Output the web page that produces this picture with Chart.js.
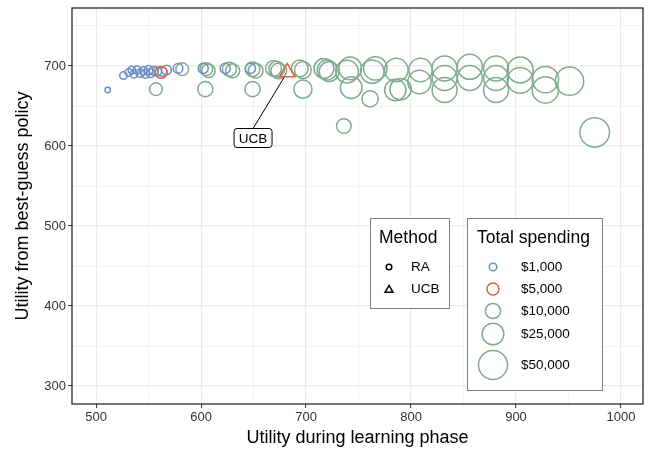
<!DOCTYPE html>
<html>
<head>
<meta charset="utf-8">
<script src="https://cdn.jsdelivr.net/npm/chart.js@4.4.1/dist/chart.umd.min.js"></script>
<style>
  html, body { margin: 0; padding: 0; background: #ffffff; }
  #wrap { width: 649px; height: 450px; }
</style>
</head>
<body>
<div id="wrap"><canvas id="c" width="649" height="450"></canvas></div>
<script>
// Random-allocation (RA) runs, low spending
const raBlueX = [511, 526, 531, 534, 536, 539, 542, 545, 547, 550, 552, 555, 558, 563, 567, 578, 602, 623, 647];
const raBlueY = [670, 688, 692, 695, 690, 695, 691, 694, 690, 695, 691, 694, 693, 693, 695, 697, 697, 697, 697];
const raBlueSpend = [150, 1000, 1000, 1000, 1200, 1200, 1500, 1500, 1500, 1800, 1800, 2000, 2000, 2200, 2500, 2500, 3000, 3000, 3000];

// RA runs, higher spending
const raGreenX = [557, 582, 605, 607, 604, 627, 630, 649, 652, 649, 669, 672, 674, 694, 697, 697,
  717, 720, 722, 736, 742, 739, 743, 761, 766, 763, 786, 785, 790, 809, 808,
  832, 832, 832, 856, 856, 881, 881, 881, 904, 904, 928, 928, 951, 975];
const raGreenY = [671, 696, 696, 694, 671, 696, 694, 696, 694, 671, 697, 696, 694, 697, 695, 671,
  697, 695, 693, 625, 697, 693, 673, 659, 697, 693, 695, 670, 671, 695, 680,
  697, 685, 670, 699, 685, 697, 685, 670, 695, 682, 683, 670, 681, 617];
const raGreenSpend = [6000, 6000, 6000, 7000, 10000, 8000, 8000, 9000, 9000, 10000, 11000, 11000, 11000, 13000, 13000, 16000,
  20000, 20000, 20000, 9000, 28000, 28000, 25000, 12000, 30000, 30000, 30000, 24000, 24000, 30000, 30000,
  35000, 35000, 35000, 35000, 35000, 35000, 35000, 35000, 38000, 38000, 40000, 40000, 47000, 52000];

// RA run at $5,000 and the UCB run
const raRedX = [562];
const raRedY = [692];
const raRedSpend = [5000];
const ucbX = [682];
const ucbY = [692];
const ucbSpend = [5000];

// Axis ticks
const xTicks = [500, 600, 700, 800, 900, 1000];
const yTicks = [300, 400, 500, 600, 700];

// Legend entries
const methodLabels = ['RA', 'UCB'];
const spendLevels = [1000, 5000, 10000, 25000, 50000];
const spendLabels = ['$1,000', '$5,000', '$10,000', '$25,000', '$50,000'];

const BLUE = '#6b8fc1';
const RED = '#e0603e';
const GREEN = '#80ab8e';
const FONT = "'Liberation Sans', Arial, Helvetica, sans-serif";

// Area-style size scale for spending
function radiusFor(s) { return 2 + 0.056 * Math.sqrt(s); }
const TRI_SCALE = 1.5;

function toPoints(xs, ys, ss) {
  return xs.map((x, i) => ({ x: x, y: ys[i], s: ss[i] }));
}

function spendColour(i) { return [BLUE, RED, GREEN, GREEN, GREEN][i]; }

function drawTriangle(ctx, x, y, r) {
  ctx.beginPath();
  for (let k = 0; k < 3; k++) {
    const a = k * 2 * Math.PI / 3;
    const px = x + Math.sin(a) * r, py = y - Math.cos(a) * r;
    if (k === 0) ctx.moveTo(px, py); else ctx.lineTo(px, py);
  }
  ctx.closePath();
  ctx.stroke();
}

// Panel border, UCB callout and the two legend boxes
const overlay = {
  id: 'overlay',
  afterDatasetsDraw(chart) {
    const ctx = chart.ctx;
    const ca = chart.chartArea;
    const xs = chart.scales.x, ys = chart.scales.y;
    ctx.save();

    // callout for the UCB run
    const ucbPt = chart.getDatasetMeta(3).data[0];
    const bx = xs.getPixelForValue(649.5), by = ys.getPixelForValue(610);
    const bw = 38, bh = 19;
    const dx = bx - ucbPt.x, dy = (by - bh / 2) - ucbPt.y;
    const len = Math.hypot(dx, dy);
    ctx.strokeStyle = '#000';
    ctx.lineWidth = 1;
    ctx.beginPath();
    ctx.moveTo(ucbPt.x + dx / len * 6, ucbPt.y + dy / len * 6);
    ctx.lineTo(bx, by - bh / 2);
    ctx.stroke();
    ctx.fillStyle = '#fff';
    ctx.beginPath();
    ctx.roundRect(bx - bw / 2, by - bh / 2, bw, bh, 3);
    ctx.fill();
    ctx.stroke();
    ctx.fillStyle = '#000';
    ctx.font = '13.5px ' + FONT;
    ctx.textAlign = 'center';
    ctx.textBaseline = 'middle';
    ctx.fillText('UCB', bx, by + 1);

    // panel border
    ctx.strokeStyle = '#1a1a1a';
    ctx.lineWidth = 1.2;
    ctx.strokeRect(ca.left, ca.top, ca.right - ca.left, ca.bottom - ca.top);

    // Method legend
    ctx.lineWidth = 1;
    ctx.strokeStyle = '#808080';
    ctx.fillStyle = '#fff';
    ctx.fillRect(370.5, 218.5, 79, 90);
    ctx.strokeRect(370.5, 218.5, 79, 90);
    ctx.fillStyle = '#000';
    ctx.textAlign = 'left';
    ctx.textBaseline = 'alphabetic';
    ctx.font = '17.5px ' + FONT;
    ctx.fillText('Method', 379, 243);
    ctx.font = '13.5px ' + FONT;
    ctx.textBaseline = 'middle';
    ctx.strokeStyle = '#000';
    ctx.lineWidth = 1.5;
    ctx.beginPath();
    ctx.arc(389, 267, 2.8, 0, Math.PI * 2);
    ctx.stroke();
    drawTriangle(ctx, 389, 290, 4.6);
    ctx.fillText(methodLabels[0], 411, 267.5);
    ctx.fillText(methodLabels[1], 411, 289.5);

    // Total spending legend
    ctx.lineWidth = 1;
    ctx.strokeStyle = '#808080';
    ctx.fillStyle = '#fff';
    ctx.fillRect(467.5, 218.5, 135, 172);
    ctx.strokeRect(467.5, 218.5, 135, 172);
    ctx.fillStyle = '#000';
    ctx.textBaseline = 'alphabetic';
    ctx.font = '17.5px ' + FONT;
    ctx.fillText('Total spending', 477, 243);
    ctx.font = '13.5px ' + FONT;
    ctx.textBaseline = 'middle';
    const rowY = [267, 289, 311, 334, 365];
    spendLevels.forEach((s, i) => {
      ctx.strokeStyle = spendColour(i);
      ctx.lineWidth = 1.5;
      ctx.beginPath();
      ctx.arc(493, rowY[i], radiusFor(s), 0, Math.PI * 2);
      ctx.stroke();
      ctx.fillText(spendLabels[i], 521, rowY[i] + 0.5);
    });
    ctx.restore();
  }
};

const majorX = new Set(xTicks), majorY = new Set(yTicks);

function axis(major, min, max, title, isY) {
  return {
    type: 'linear',
    min: min,
    max: max,
    afterFit(scale) {
      if (isY) scale.width = 72; else scale.height = 46;
      scale.paddingTop = 0;
      scale.paddingBottom = 0;
      scale.paddingLeft = 0;
      scale.paddingRight = 0;
    },
    ticks: {
      stepSize: 50,
      includeBounds: false,
      autoSkip: false,
      maxRotation: 0,
      padding: 2,
      color: '#333',
      font: { family: FONT, size: 13 },
      callback: (v) => major.has(v) ? String(v) : ''
    },
    grid: {
      color: '#ebebeb',
      lineWidth: (c) => (c.tick && major.has(c.tick.value)) ? 1.2 : 0.6,
      tickColor: (c) => (c.tick && major.has(c.tick.value)) ? '#333' : 'rgba(0,0,0,0)',
      tickLength: 4,
      tickWidth: 1
    },
    border: { display: false },
    title: {
      display: true,
      text: title,
      color: '#000',
      font: { family: FONT, size: 18 },
      padding: isY ? { top: 12, bottom: 0 } : { top: 0, bottom: 1 }
    }
  };
}

const ring = (colour) => ({
  showLine: false,
  borderColor: colour,
  backgroundColor: 'rgba(0,0,0,0)',
  borderWidth: 1.5,
  pointBorderWidth: 1.5,
  pointRadius: (c) => radiusFor(c.raw.s)
});

new Chart(document.getElementById('c'), {
  type: 'scatter',
  data: {
    datasets: [
      Object.assign({ label: 'RA', data: toPoints(raGreenX, raGreenY, raGreenSpend), order: 4 }, ring(GREEN)),
      Object.assign({ label: 'RA', data: toPoints(raBlueX, raBlueY, raBlueSpend), order: 3 }, ring(BLUE)),
      Object.assign({ label: 'RA', data: toPoints(raRedX, raRedY, raRedSpend), order: 2 }, ring(RED)),
      Object.assign({ label: 'UCB', data: toPoints(ucbX, ucbY, ucbSpend), order: 1, pointStyle: 'triangle' }, ring(RED),
        { pointRadius: (c) => radiusFor(c.raw.s) * TRI_SCALE })
    ]
  },
  options: {
    responsive: false,
    devicePixelRatio: 1,
    animation: false,
    events: [],
    layout: { autoPadding: false, padding: { top: 8, right: 6, left: 0, bottom: 0 } },
    plugins: { legend: { display: false }, tooltip: { enabled: false } },
    scales: {
      x: axis(majorX, 477, 1021, 'Utility during learning phase', false),
      y: axis(majorY, 277.5, 772.5, 'Utility from best-guess policy', true)
    }
  },
  plugins: [overlay]
});
</script>
</body>
</html>
